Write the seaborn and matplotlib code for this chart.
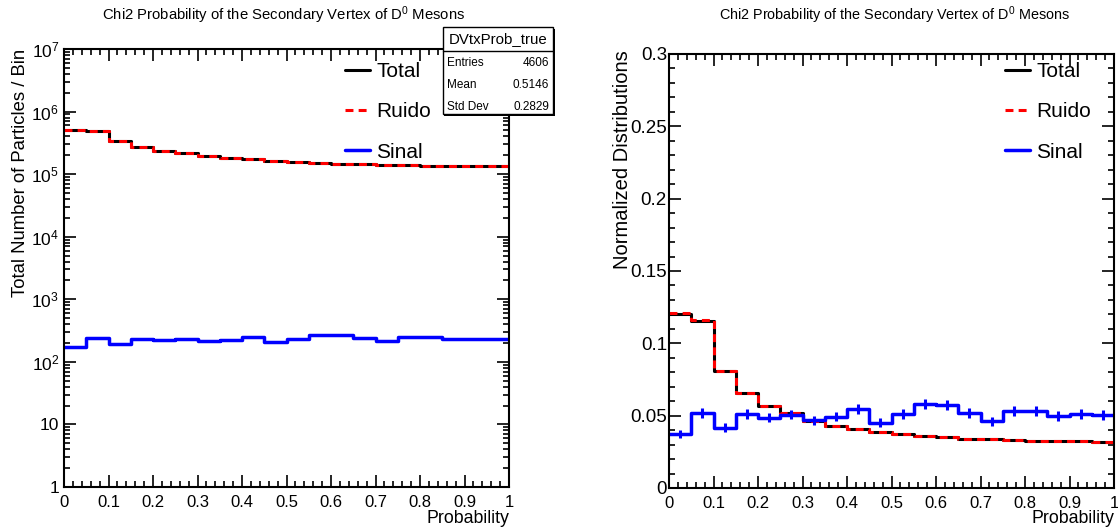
import numpy as np
import pandas as pd
import matplotlib
matplotlib.use("Agg")
import matplotlib.pyplot as plt
import seaborn as sns
from matplotlib.lines import Line2D
from matplotlib.patches import Rectangle
from matplotlib.ticker import (MultipleLocator, LogLocator, FuncFormatter,
                               NullFormatter)

# ---- data: 20 bins of the chi2 probability in [0, 1] ----
bin_lo = [0.00, 0.05, 0.10, 0.15, 0.20, 0.25, 0.30, 0.35, 0.40, 0.45,
          0.50, 0.55, 0.60, 0.65, 0.70, 0.75, 0.80, 0.85, 0.90, 0.95]
ruido = [504830, 484760, 339810, 273760, 237780, 216770, 193780, 179770,
         171750, 162790, 155760, 151730, 146740, 142760, 141290, 138350,
         136750, 136270, 135460, 134170]
sinal = [171, 238, 192, 236, 224, 234, 216, 227, 251, 208,
         236, 268, 264, 238, 213, 246, 246, 230, 236, 232]
stats_rows = [("Mean", "0.5146"), ("Std Dev", "0.2829")]
title = r"Chi2 Probability of the Secondary Vertex of D$^{0}$ Mesons"

BIN_W = 0.05
df = pd.DataFrame({"prob": np.array(bin_lo) + BIN_W / 2,
                   "Ruido": ruido, "Sinal": sinal})
df["Total"] = df["Ruido"] + df["Sinal"]

# ---- style ----
sns.set_theme(style="ticks")
plt.rcParams.update({
    "font.family": ["Liberation Sans", "DejaVu Sans"],
    "mathtext.fontset": "custom",
    "mathtext.rm": "Liberation Sans",
    "mathtext.it": "Liberation Sans:italic",
    "mathtext.bf": "Liberation Sans:bold",
    "axes.linewidth": 1.5,
    "axes.edgecolor": "black",
    "text.color": "black",
    "axes.labelcolor": "black",
    "xtick.color": "black",
    "ytick.color": "black",
    "xtick.direction": "in",
    "ytick.direction": "in",
    "xtick.top": True,
    "ytick.right": True,
    "xtick.major.size": 8.6,
    "ytick.major.size": 8.6,
    "xtick.minor.size": 4.3,
    "ytick.minor.size": 4.3,
    "xtick.major.width": 1.2,
    "ytick.major.width": 1.2,
    "xtick.minor.width": 1.2,
    "ytick.minor.width": 1.2,
})

W, H = 1118, 530
fig = plt.figure(figsize=(W / 100, H / 100), dpi=100)
fig.patch.set_facecolor("white")


def fx(px):
    return px / W


def fy(py):
    return 1 - py / H


axL = fig.add_axes([fx(64), fy(487), 445 / W, 438 / H])
axR = fig.add_axes([fx(669), fy(488), 445 / W, 434 / H])

LW = 2.2
DASH = (0, (2.6, 1.7))
hist_kw = dict(x="prob", bins=20, binrange=(0, 1), element="step", fill=False)

# left: absolute counts on a log axis
sns.histplot(data=df, weights="Total", color="black", linewidth=LW, ax=axL, **hist_kw)
sns.histplot(data=df, weights="Ruido", color="red", linewidth=LW, linestyle=DASH,
             ax=axL, **hist_kw)
sns.histplot(data=df, weights="Sinal", color="blue", linewidth=LW + 0.3, ax=axL, **hist_kw)
axL.set_yscale("log")
axL.set_ylim(1, 1e7)

# right: unit-area distributions
sns.histplot(data=df, weights="Total", stat="probability", color="black",
             linewidth=LW, ax=axR, **hist_kw)
sns.histplot(data=df, weights="Ruido", stat="probability", color="red",
             linewidth=LW, linestyle=DASH, ax=axR, **hist_kw)
sns.histplot(data=df, weights="Sinal", stat="probability", color="blue",
             linewidth=LW + 0.3, ax=axR, **hist_kw)
n_sig = df["Sinal"].sum()
axR.errorbar(df["prob"], df["Sinal"] / n_sig, yerr=np.sqrt(df["Sinal"]) / n_sig,
             fmt="none", ecolor="blue", elinewidth=LW, capsize=0)
axR.set_ylim(0, 0.3)

for ax in (axL, axR):
    ax.set_xlim(0, 1)
    ax.set_facecolor("white")
    for s in ax.spines.values():
        s.set_visible(True)
        s.set_linewidth(1.5)
        s.set_zorder(5)
    ax.xaxis.set_major_locator(MultipleLocator(0.1))
    ax.xaxis.set_minor_locator(MultipleLocator(0.02))
    ax.xaxis.set_major_formatter(FuncFormatter(lambda v, _: f"{v:g}"))
    ax.tick_params(which="both", direction="in", top=True, right=True,
                   bottom=True, left=True, width=1.2, colors="black")
    ax.tick_params(which="major", length=8.6)
    ax.tick_params(which="minor", length=4.3)
    ax.tick_params(axis="x", which="major", labelsize=12, pad=6)
    ax.grid(False)


def log_label(v, _):
    if v < 0.5 or v > 2e7:
        return ""
    if v <= 1.5:
        return "1"
    if v <= 15:
        return "10"
    return r"$10^{%d}$" % int(round(np.log10(v)))


axL.yaxis.set_major_locator(LogLocator(base=10, numticks=12))
axL.yaxis.set_minor_locator(LogLocator(base=10, subs=np.arange(2, 10) * 1.0, numticks=40))
axL.yaxis.set_major_formatter(FuncFormatter(log_label))
axL.yaxis.set_minor_formatter(NullFormatter())
axL.tick_params(axis="y", which="major", labelsize=12.5, pad=3.5)

axR.yaxis.set_major_locator(MultipleLocator(0.05))
axR.yaxis.set_minor_locator(MultipleLocator(0.01))
axR.yaxis.set_major_formatter(FuncFormatter(lambda v, _: f"{v:g}"))
axR.tick_params(axis="y", which="major", labelsize=13.5, pad=1.5)

# axis titles
axL.set_xlabel("Probability", fontsize=12.8, loc="right")
axL.xaxis.set_label_coords(1.0, -(510 - 487) / 438)
axL.set_ylabel("Total Number of Particles / Bin", fontsize=13.3, loc="top")
axL.yaxis.set_label_coords(-0.0787, 1.0)

axR.set_xlabel("Probability", fontsize=12.8, loc="right")
axR.xaxis.set_label_coords(1.0, -(510 - 488) / 434)
axR.set_ylabel("Normalized Distributions", fontsize=14.5, loc="top")
axR.yaxis.set_label_coords(-0.083, 1.0 + 4 / 434)

# titles
fig.text(fx(284), fy(15), title, ha="center", va="center", fontsize=10.7)
fig.text(fx(895), fy(15), title, ha="center", va="center", fontsize=10.4)

# legends
handles = [Line2D([], [], color="black", lw=LW),
           Line2D([], [], color="red", lw=LW, linestyle=DASH),
           Line2D([], [], color="blue", lw=LW + 0.3)]
labels = ["Total", "Ruido", "Sinal"]
for ax, x0 in ((axL, 345), (axR, 1005)):
    ax.legend(handles, labels, loc="upper left",
              bbox_to_anchor=(fx(x0), fy(62)), bbox_transform=fig.transFigure,
              frameon=False, fontsize=15, handlelength=1.2, handletextpad=0.3,
              labelspacing=1.02, borderpad=0, borderaxespad=0)

# statistics box for the signal histogram
bx0, bx1, by0, by1, bsep = 443, 553, 27, 114, 51
fig.patches.append(Rectangle((fx(bx0) + 1.5 / W, fy(by1) - 1.5 / H),
                             (bx1 - bx0) / W, (by1 - by0) / H,
                             transform=fig.transFigure, facecolor="black",
                             edgecolor="none", zorder=10))
fig.patches.append(Rectangle((fx(bx0), fy(by1)), (bx1 - bx0) / W, (by1 - by0) / H,
                             transform=fig.transFigure, facecolor="white",
                             edgecolor="black", linewidth=1.0, zorder=11))
fig.lines.append(Line2D([fx(bx0), fx(bx1)], [fy(bsep), fy(bsep)],
                        transform=fig.transFigure, color="black", lw=1.0, zorder=12))
fig.text(fx((bx0 + bx1) / 2), fy(39), "DVtxProb_true", ha="center", va="center",
         fontsize=10.8, zorder=13)
rows = [("Entries", f"{int(n_sig)}")] + stats_rows
for i, (name, val) in enumerate(rows):
    yy = 63.5 + 21.5 * i
    fig.text(fx(447), fy(yy), name, ha="left", va="center", fontsize=8.5, zorder=13)
    fig.text(fx(549), fy(yy), val, ha="right", va="center", fontsize=8.5, zorder=13)

fig.savefig("out.png", dpi=100, facecolor="white")
